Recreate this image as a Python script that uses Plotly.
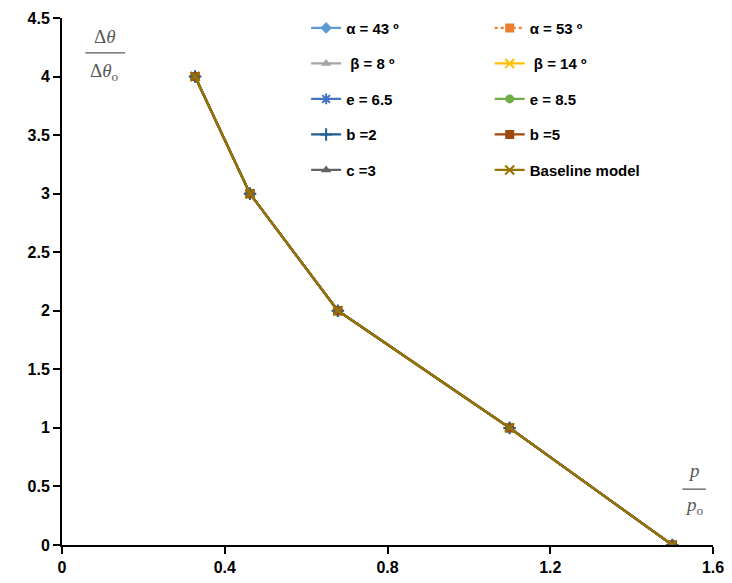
import plotly.graph_objects as go

# ---- data ----
p_ratio = [0.327, 0.462, 0.678, 1.10, 1.50]
theta_ratio = [4, 3, 2, 1, 0]

alpha43_y = [4, 3, 2, 1, 0]
alpha53_y = [4, 3, 2, 1, 0]
beta8_y = [4, 3, 2, 1, 0]
beta14_y = [4, 3, 2, 1, 0]
e65_y = [4, 3, 2, 1, 0]
e85_y = [4, 3, 2, 1, 0]
b2_y = [4, 3, 2, 1, 0]
b5_y = [4, 3, 2, 1, 0]
c3_y = [4, 3, 2, 1, 0]
baseline_y = [4, 3, 2, 1, 0]

x_ticks = [0, 0.4, 0.8, 1.2, 1.6]
x_tick_labels = ["0", "0.4", "0.8", "1.2", "1.6"]
y_ticks = [0, 0.5, 1, 1.5, 2, 2.5, 3, 3.5, 4, 4.5]
y_tick_labels = ["0", "0.5", "1", "1.5", "2", "2.5", "3", "3.5", "4", "4.5"]

series = [
    # name, y, color, symbol, dash, legend
    ("α = 43 º", alpha43_y, "#5B9BD5", "diamond", "solid", "legend"),
    ("α = 53 º", alpha53_y, "#ED7D31", "square", "dot", "legend2"),
    (" β = 8 º", beta8_y, "#A5A5A5", "triangle-up", "solid", "legend"),
    (" β = 14 º", beta14_y, "#FFC000", "x-thin-open", "solid", "legend2"),
    ("e = 6.5", e65_y, "#4472C4", "asterisk-open", "solid", "legend"),
    ("e = 8.5", e85_y, "#70AD47", "circle", "solid", "legend2"),
    ("b =2", b2_y, "#255E91", "cross-thin-open", "solid", "legend"),
    ("b =5", b5_y, "#9E480E", "square", "solid", "legend2"),
    ("c =3", c3_y, "#636363", "triangle-up", "solid", "legend"),
    ("Baseline model", baseline_y, "#997300", "x-thin-open", "solid", "legend2"),
]

fig = go.Figure()
for i, (name, ys, color, sym, dash, leg) in enumerate(series):
    open_sym = sym.endswith("open")
    fig.add_trace(go.Scatter(
        x=p_ratio, y=ys, name=name, mode="lines+markers",
        line=dict(color=color, width=2.2, dash=dash),
        marker=dict(symbol=sym, size=9, color=color,
                    line=dict(color=color, width=2 if open_sym else 0)),
        legend=leg, legendgroup=f"g{i}",
    ))

font_main = "Liberation Sans Narrow, Liberation Sans, Arial, sans-serif"

leg_common = dict(
    font=dict(family=font_main, size=15, color="#000000", weight="bold"),
    bgcolor="rgba(0,0,0,0)", tracegroupgap=13, itemwidth=30,
    xanchor="left", yanchor="top", yref="paper", xref="paper",
)

fig.update_layout(
    width=732, height=583,
    margin=dict(l=62, r=19, t=18, b=38, autoexpand=False),
    paper_bgcolor="white", plot_bgcolor="white",
    showlegend=True,
    legend=dict(x=0.375, y=1.012, **leg_common),
    legend2=dict(x=0.657, y=1.012, **leg_common),
    xaxis=dict(range=[0, 1.6], tickvals=x_ticks, ticktext=x_tick_labels,
               showgrid=False, zeroline=False, showline=True, linecolor="black",
               linewidth=2, ticks="outside", ticklen=7, tickwidth=2, tickcolor="black",
               tickfont=dict(family=font_main, size=16, color="black", weight="bold"),
               fixedrange=True),
    yaxis=dict(range=[0, 4.5], tickvals=y_ticks, ticktext=y_tick_labels,
               showgrid=False, zeroline=False, showline=True, linecolor="black",
               linewidth=2, ticks="outside", ticklen=7, tickwidth=2, tickcolor="black",
               tickfont=dict(family=font_main, size=16, color="black", weight="bold"),
               fixedrange=True),
)

serif = "Liberation Serif, DejaVu Serif, serif"
ann_font = dict(family=serif, size=19, color="#595959")
ann_common = dict(xref="paper", yref="paper", showarrow=False, font=ann_font,
                  xanchor="center", yanchor="middle")
fig.add_annotation(text="Δ<i>θ</i>", x=0.066, y=0.964, **ann_common)
fig.add_annotation(text="Δ<i>θ</i><sub>o</sub>", x=0.066, y=0.898, **ann_common)
fig.add_shape(type="line", xref="paper", yref="paper", x0=0.036, x1=0.097, y0=0.934, y1=0.934,
              line=dict(color="#595959", width=1.3))

fig.add_annotation(text="<i>p</i>", x=0.971, y=0.142, **ann_common)
fig.add_annotation(text="<i>p</i><sub>o</sub>", x=0.971, y=0.074, **ann_common)
fig.add_shape(type="line", xref="paper", yref="paper", x0=0.953, x1=0.989, y0=0.106, y1=0.106,
              line=dict(color="#595959", width=1.3))

fig.write_html("out.html")
